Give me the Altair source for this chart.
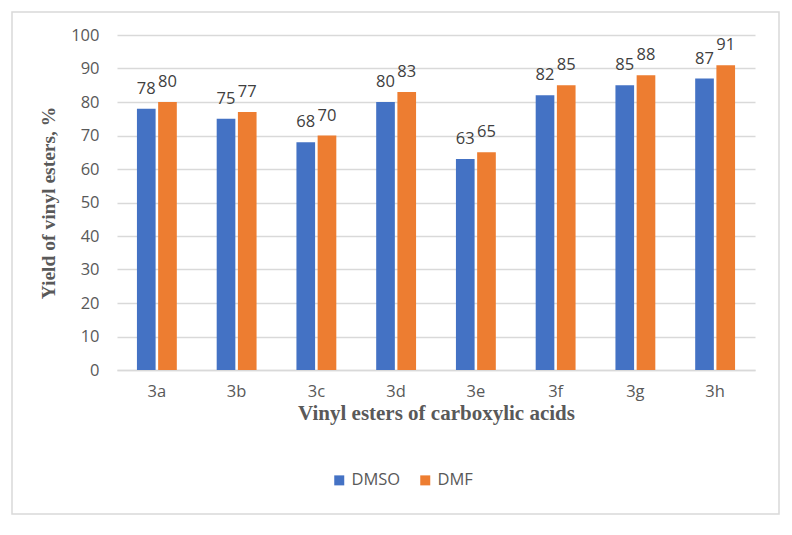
import altair as alt
import pandas as pd

# Yields of vinyl esters 3a–3h in two solvents
esters = ["3a", "3b", "3c", "3d", "3e", "3f", "3g", "3h"]
dmso = [78, 75, 68, 80, 63, 82, 85, 87]
dmf = [80, 77, 70, 83, 65, 85, 88, 91]
solvents = ["DMSO", "DMF"]
colors = ["#4472C4", "#ED7D31"]

rows = []
for i, e in enumerate(esters):
    rows.append({"ester": e, "solvent": "DMSO", "yield": dmso[i]})
    rows.append({"ester": e, "solvent": "DMF", "yield": dmf[i]})
df = pd.DataFrame(rows)

W, H = 638, 335
label_font = "Open Sans"
title_font = "Liberation Serif"
label_size = 16.5

x = alt.X(
    "ester:N",
    sort=esters,
    scale=alt.Scale(paddingInner=0.5, paddingOuter=0.25),
    axis=alt.Axis(
        title="Vinyl esters of carboxylic acids",
        labelAngle=0,
        labelFont=label_font,
        labelFontSize=label_size,
        labelColor="#595959",
        labelPadding=13,
        ticks=False,
        grid=False,
        domainColor="#D9D9D9",
        domainWidth=1.5,
        titleFont=title_font,
        titleFontSize=21,
        titleFontWeight="bold",
        titleColor="#595959",
        titlePadding=3,
    ),
)
y = alt.Y(
    "yield:Q",
    scale=alt.Scale(domain=[0, 100]),
    axis=alt.Axis(
        title="Yield of vinyl esters, %",
        values=list(range(0, 101, 10)),
        labelFont=label_font,
        labelFontSize=label_size,
        labelColor="#595959",
        labelPadding=18,
        ticks=False,
        domain=False,
        gridColor="#D9D9D9",
        gridWidth=1.5,
        titleFont=title_font,
        titleFontSize=19.5,
        titleFontWeight="bold",
        titleColor="#595959",
        titlePadding=12,
    ),
)
xoff = alt.XOffset("solvent:N", sort=solvents, scale=alt.Scale(paddingInner=0.12))
color = alt.Color(
    "solvent:N",
    sort=solvents,
    scale=alt.Scale(domain=solvents, range=colors),
    legend=alt.Legend(
        title=None,
        orient="none",
        direction="horizontal",
        legendX=214,
        legendY=437,
        symbolType="square",
        symbolSize=100,
        symbolStrokeWidth=0,
        labelFont=label_font,
        labelFontSize=label_size,
        labelColor="#595959",
        columnPadding=16,
        padding=0,
    ),
)

bars = alt.Chart(df).mark_bar().encode(x=x, y=y, xOffset=xoff, color=color)

labels = alt.Chart(df).mark_text(
    baseline="alphabetic", dy=-15, font=label_font, fontSize=label_size, color="#404040"
).encode(x=x, y=y, xOffset=xoff, text="yield:Q")

# Outer frame around the whole chart
frame = alt.Chart(pd.DataFrame({"k": [0]})).mark_rect(
    fill="transparent", stroke="#D9D9D9", strokeWidth=1.5
).encode(
    x=alt.value(-105), x2=alt.value(662), y=alt.value(-23), y2=alt.value(479)
)

chart = (
    alt.layer(frame, bars, labels)
    .properties(width=W, height=H, background="white",
                autosize=alt.AutoSizeParams(type="none"),
                padding={"left": 117, "top": 35, "right": 37, "bottom": 165})
    .configure_view(stroke="transparent", strokeWidth=0)
)

chart.save("out.html", embed_options={"renderer": "svg", "actions": False})
